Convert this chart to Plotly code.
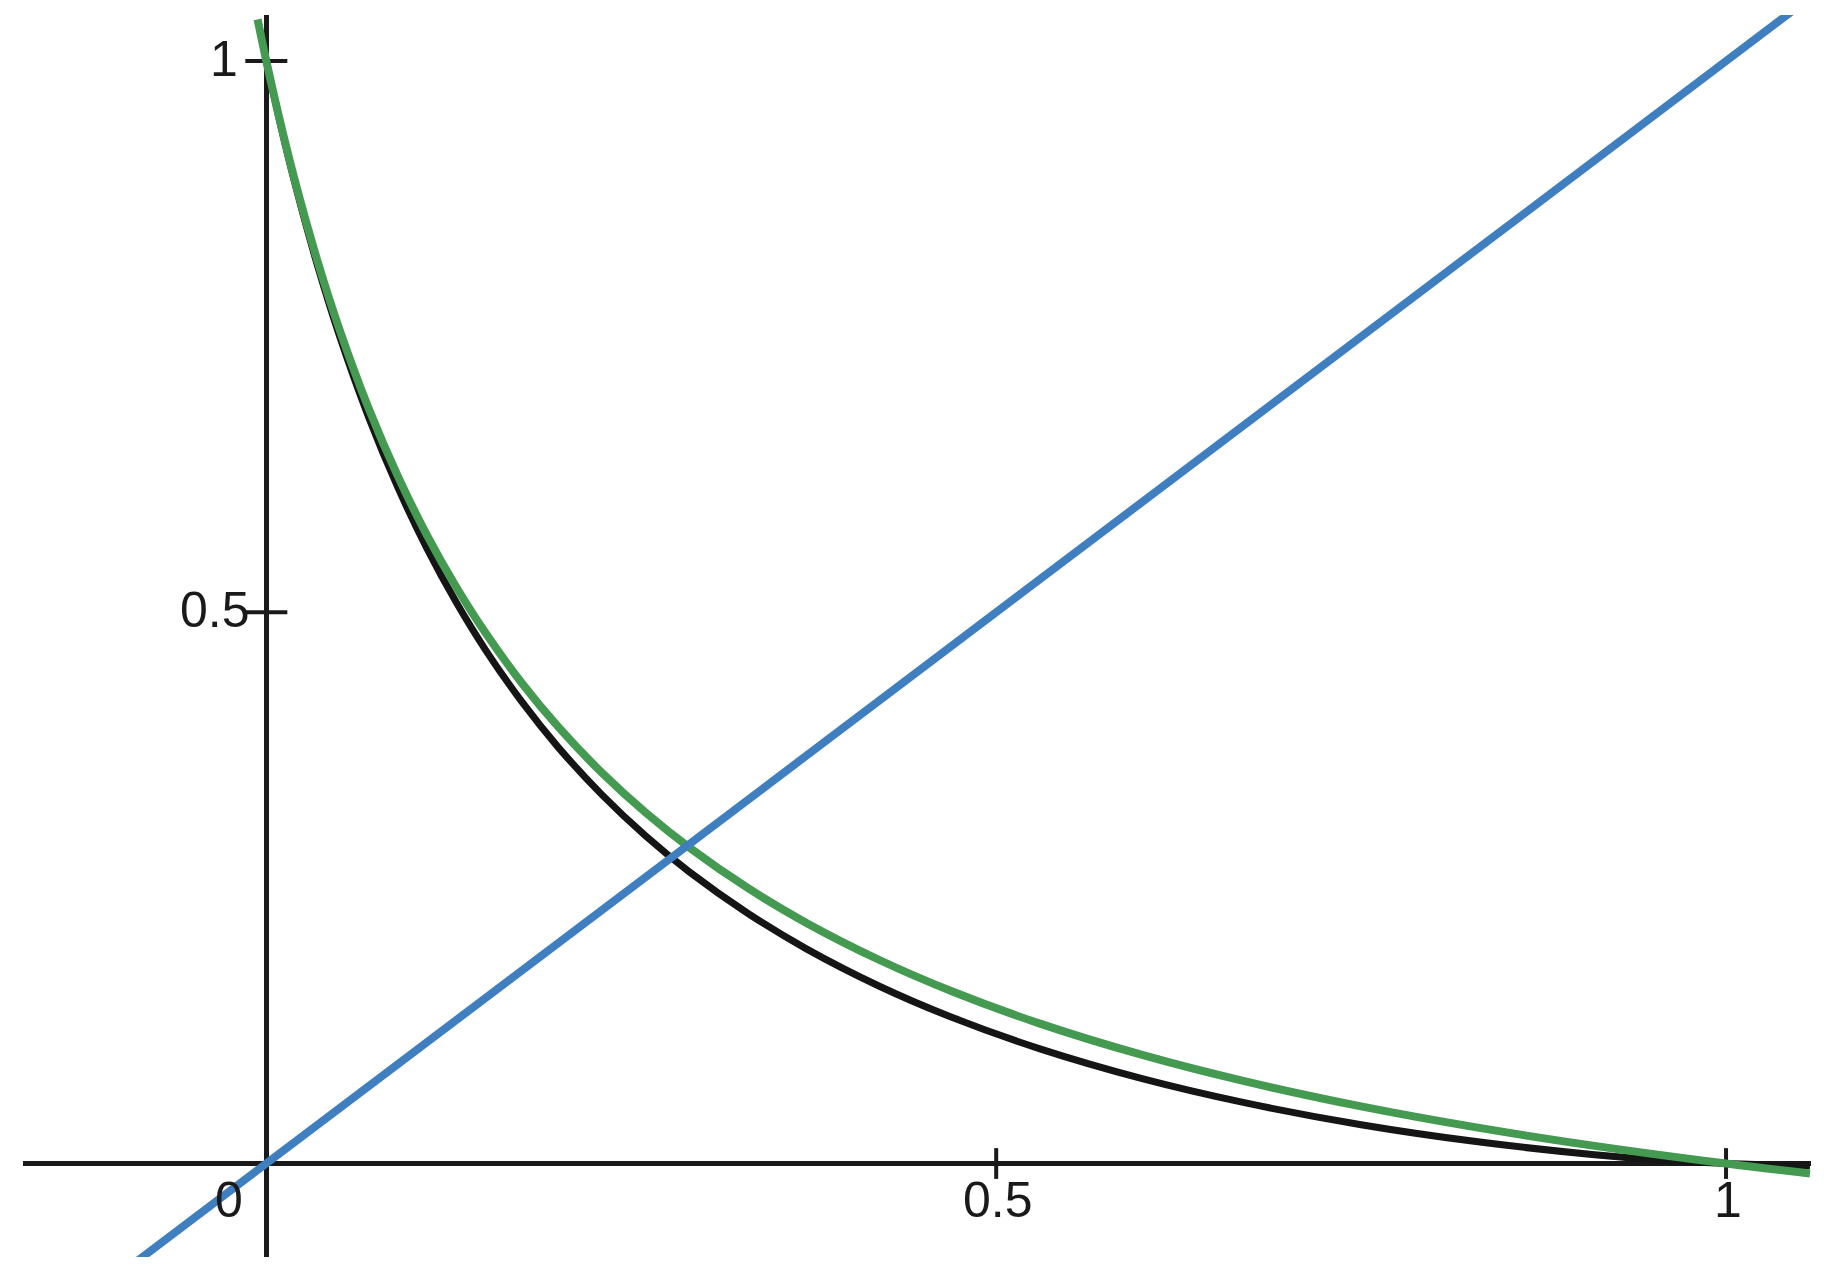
import plotly.graph_objects as go

# curves (x, y in axis units)
black_x = [0.000, 0.010, 0.020, 0.035, 0.050, 0.070, 0.090, 0.110, 0.130, 0.150,
           0.175, 0.200, 0.230, 0.260, 0.290, 0.330, 0.370, 0.420, 0.470, 0.530,
           0.600, 0.670, 0.750, 0.830, 0.910, 0.960, 1.000, 1.0575]
black_y = [1.000, 0.9408, 0.8870, 0.8147, 0.7511, 0.6772, 0.6135, 0.5580, 0.5093,
           0.4662, 0.4189, 0.3775, 0.3344, 0.2970, 0.2643, 0.2268, 0.1947, 0.1608,
           0.1324, 0.1040, 0.0770, 0.0552, 0.0352, 0.0197, 0.0080, 0.0027, 0.000,
           -0.002]

green_x = [-0.006, 0.000, 0.010, 0.020, 0.035, 0.050, 0.070, 0.090, 0.110, 0.130,
           0.150, 0.175, 0.200, 0.230, 0.260, 0.290, 0.330, 0.370, 0.420, 0.470,
           0.530, 0.600, 0.670, 0.750, 0.830, 0.910, 1.000, 1.0575]
green_y = [1.0378, 1.000, 0.9420, 0.8893, 0.8188, 0.7570, 0.6853, 0.6237, 0.5701,
           0.5232, 0.4816, 0.4359, 0.3960, 0.3543, 0.3181, 0.2864, 0.2497, 0.2182,
           0.1846, 0.1560, 0.1269, 0.0985, 0.0747, 0.0518, 0.0325, 0.0160, 0.000,
           -0.0090]

blue_x = [-0.1, 1.1]
blue_y = [-0.1, 1.1]

x_ticks = [0.5, 1]
x_tick_labels = ["0.5", "1"]
y_ticks = [0.5, 1]
y_tick_labels = ["0.5", "1"]

AXIS = "#1a1a1a"
FONT = dict(family="Liberation Sans, Arial, sans-serif", size=50, color="#1a1a1a")

fig = go.Figure()

# tick marks crossing the axes
fig.add_trace(go.Scatter(
    x=x_ticks, y=[0] * len(x_ticks), mode="markers", hoverinfo="skip",
    marker=dict(symbol="line-ns", size=22, line=dict(width=4, color=AXIS)),
))
fig.add_trace(go.Scatter(
    x=[0] * len(y_ticks), y=y_ticks, mode="markers", hoverinfo="skip",
    marker=dict(symbol="line-ew", size=30, line=dict(width=4, color=AXIS)),
))

fig.add_trace(go.Scatter(x=black_x, y=black_y, mode="lines",
                         line=dict(color="#151515", width=7, shape="spline", smoothing=1.0)))
fig.add_trace(go.Scatter(x=green_x, y=green_y, mode="lines",
                         line=dict(color="#449a50", width=8, shape="spline", smoothing=1.0)))
fig.add_trace(go.Scatter(x=blue_x, y=blue_y, mode="lines",
                         line=dict(color="#3f7fc0", width=8)))

annotations = []
for v, t in zip(x_ticks, x_tick_labels):
    annotations.append(dict(x=v, y=0, text=t, showarrow=False, xanchor="center",
                            yanchor="top", yshift=-6, xshift=2, font=FONT))
annotations.append(dict(x=0, y=0, text="0", showarrow=False, xanchor="center",
                        yanchor="top", xshift=-37, yshift=-6, font=FONT))
y_label_xshift = {"0.5": -14, "1": -26}
for v, t in zip(y_ticks, y_tick_labels):
    annotations.append(dict(x=0, y=v, text=t, showarrow=False, xanchor="right",
                            yanchor="middle", xshift=y_label_xshift[t], yshift=2,
                            font=FONT))

# page body has an 8px margin, so the figure is 16px smaller than the window
fig.update_layout(
    width=1808, height=1256, autosize=False,
    margin=dict(l=15, r=5, t=7, b=7),
    paper_bgcolor="white", plot_bgcolor="white",
    showlegend=False,
    annotations=annotations,
    xaxis=dict(range=[-0.1667, 1.0582], showgrid=False, showticklabels=False,
               ticks="", zeroline=True, zerolinecolor=AXIS, zerolinewidth=4.5,
               showline=False, fixedrange=True),
    yaxis=dict(range=[-0.0848, 1.0418], showgrid=False, showticklabels=False,
               ticks="", zeroline=True, zerolinecolor=AXIS, zerolinewidth=4.5,
               showline=False, fixedrange=True),
)

fig.write_html("out.html")
